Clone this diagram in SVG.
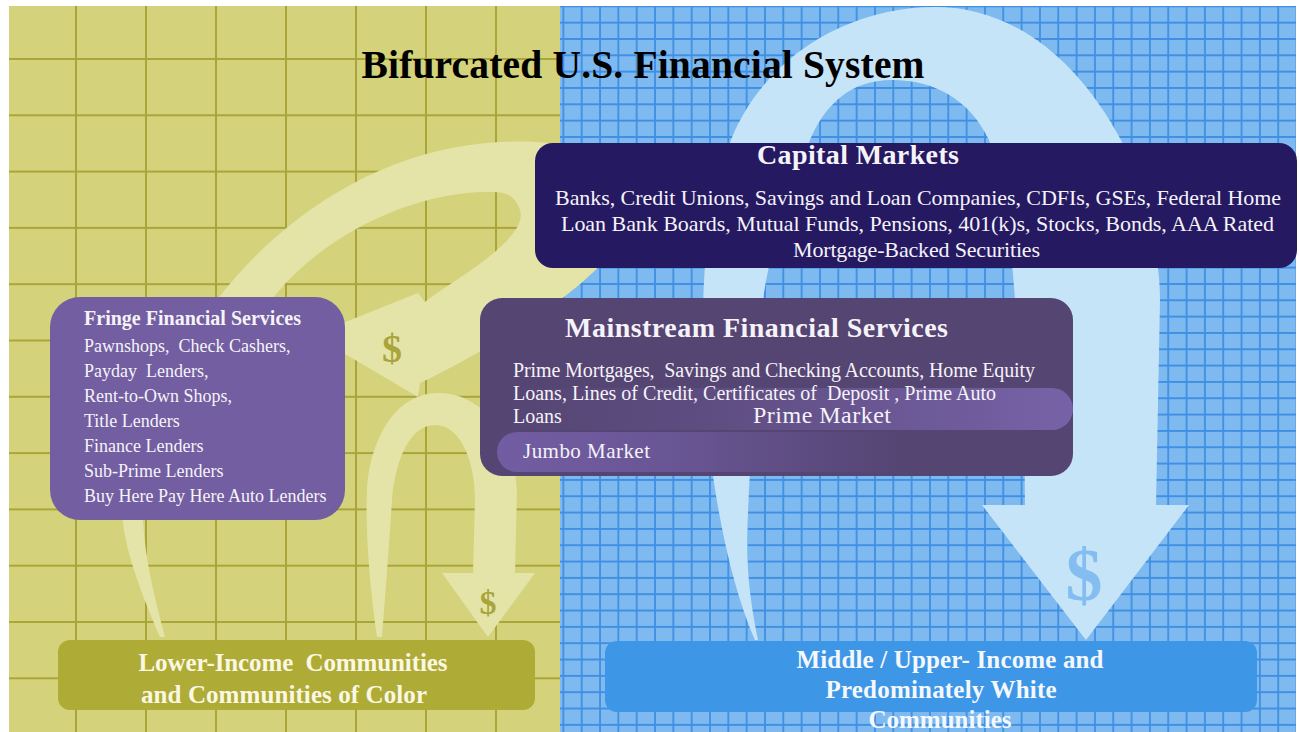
<svg xmlns="http://www.w3.org/2000/svg" width="1299" height="732" viewBox="0 0 1299 732">
<style>
.sf{font-family:"Liberation Serif","Times New Roman",serif}
.w{fill:#f5f3f8}
.bd{font-weight:bold}
.mid{text-anchor:middle}
.cream{fill:#e5e4a8}
.sky{fill:#c6e4f8}
.cash{font-family:"Liberation Serif","Times New Roman",serif;font-weight:bold;text-anchor:middle}
</style>
<defs>
  <!-- coarse olive grid for the left half -->
  <pattern id="gridY" patternUnits="userSpaceOnUse" x="75" y="58" width="70" height="56.3">
    <rect width="70" height="56.3" fill="#d4d27a"/>
    <path d="M1 0V56.3M0 1H70" stroke="#aaa53a" stroke-width="2"/>
  </pattern>
  <!-- fine blue grid for the right half -->
  <pattern id="gridB" patternUnits="userSpaceOnUse" x="580.7" y="21.7" width="18.33" height="16.33">
    <rect width="18.33" height="16.33" fill="#7ebaf0"/>
    <path d="M1 0V16.33M0 1H18.33" stroke="#3f8fe2" stroke-width="1.8"/>
  </pattern>
  <linearGradient id="primeFade" x1="0" y1="0" x2="1" y2="0">
    <stop offset="0" stop-color="#7762a7" stop-opacity="0"/>
    <stop offset="0.35" stop-color="#7762a7" stop-opacity="0.25"/>
    <stop offset="1" stop-color="#7762a7" stop-opacity="1"/>
  </linearGradient>
  <linearGradient id="jumboFade" x1="0" y1="0" x2="1" y2="0">
    <stop offset="0" stop-color="#725da3" stop-opacity="1"/>
    <stop offset="0.3" stop-color="#725da3" stop-opacity="0.7"/>
    <stop offset="0.7" stop-color="#725da3" stop-opacity="0"/>
  </linearGradient>
</defs>

<!-- page and the two backgrounds -->
<rect width="1299" height="732" fill="#ffffff"/>
<rect x="9" y="6" width="551" height="726" fill="url(#gridY)"/>
<rect x="560" y="6" width="736" height="726" fill="url(#gridB)"/>

<g id="connectors">
  <!-- big loop: communities up to capital markets and back down to fringe services -->
  <path id="loop-fringe" class="cream" d="M160 637 C140 590 120 540 122 500 C124 420 160 340 217 300 C270 230 360 160 470 145 C520 138 580 140 610 165 C640 200 620 250 590 275 C565 300 490 350 420 383 L418 397 L313 335 L418 293 L425 302 C445 285 530 240 520 210 C515 195 505 192 493 192 C420 190 330 230 277 293 C220 360 150 440 143 520 C145 560 155 600 165 637 Z"/>
  <!-- small U-turn back down to lower-income communities -->
  <path id="uturn-lower" class="cream" d="M377 637 C370 590 365 530 367 490 C370 440 395 393 438 393 C480 393 512 430 517 490 L515 573 L535 573 L488 637 L442 573 L473 573 L475 500 C475 460 460 425 435 425 C410 425 395 460 392 500 C388 560 385 600 382 637 Z"/>
  <!-- large arch over the mainstream side -->
  <path id="arch-upper" class="sky" d="M755 640 C720 560 700 420 703 320 C703 250 712 190 731 140 C765 55 850 7 935 7 C1010 7 1075 55 1121 140 C1145 200 1160 250 1160 300 L1156 505 L1189 505 L1086 640 L982 505 L1025 505 C1025 420 1020 350 1015 300 C1010 230 1003 180 989 140 C970 100 935 80 892 80 C850 80 825 105 810 140 C785 200 763 270 760 330 C755 420 745 500 748 570 C750 600 755 625 758 640 Z"/>
  <text class="cash" x="392" y="362" font-size="40" fill="#a9a43c">$</text>
  <text class="cash" x="488" y="614" font-size="34" fill="#a9a43c">$</text>
  <text class="cash" x="1084" y="600" font-size="74" fill="#84bdf0">$</text>
</g>

<g id="title">
  <text class="sf bd mid" x="643" y="78" font-size="39.5" fill="#000" textLength="563" lengthAdjust="spacing">Bifurcated U.S. Financial System</text>
</g>

<g id="capital-markets">
  <rect x="535" y="143" width="762" height="125" rx="18" fill="#251a62"/>
  <text class="sf bd mid w" x="858" y="164" font-size="28" textLength="202" lengthAdjust="spacing">Capital Markets</text>
  <text class="sf mid w" x="918" y="205" font-size="22" textLength="726" lengthAdjust="spacing">Banks, Credit Unions, Savings and Loan Companies, CDFIs, GSEs, Federal Home</text>
  <text class="sf mid w" x="917.5" y="231" font-size="22" textLength="713" lengthAdjust="spacing">Loan Bank Boards, Mutual Funds, Pensions, 401(k)s, Stocks, Bonds, AAA Rated</text>
  <text class="sf mid w" x="916.5" y="257" font-size="22" textLength="247" lengthAdjust="spacing">Mortgage-Backed Securities</text>
</g>

<g id="mainstream">
  <rect x="480" y="298" width="593" height="178" rx="22" fill="#554573"/>
  <rect x="497" y="388" width="576" height="42" rx="21" fill="url(#primeFade)"/>
  <rect x="497" y="432" width="576" height="40" rx="20" fill="url(#jumboFade)"/>
  <text class="sf bd mid w" x="756.5" y="337" font-size="28" textLength="383" lengthAdjust="spacing">Mainstream Financial Services</text>
  <text class="sf w" x="513" y="377" font-size="20" textLength="522" lengthAdjust="spacing" xml:space="preserve">Prime Mortgages,  Savings and Checking Accounts, Home Equity</text>
  <text class="sf w" x="513" y="400" font-size="20" textLength="483" lengthAdjust="spacing" xml:space="preserve">Loans, Lines of Credit, Certificates of  Deposit , Prime Auto</text>
  <text class="sf w" x="513" y="423" font-size="20">Loans</text>
  <text class="sf mid w" x="822" y="423" font-size="24" textLength="138" lengthAdjust="spacing">Prime Market</text>
  <text class="sf w" x="523" y="458" font-size="21" textLength="127" lengthAdjust="spacing">Jumbo Market</text>
</g>

<g id="fringe">
  <rect x="50" y="297" width="295" height="223" rx="30" fill="#735ea1"/>
  <text class="sf bd w" x="84" y="325" font-size="20" textLength="217" lengthAdjust="spacing">Fringe Financial Services</text>
  <text class="sf w" x="84" y="352" font-size="18" xml:space="preserve">Pawnshops,  Check Cashers,</text>
  <text class="sf w" x="84" y="377" font-size="18" xml:space="preserve">Payday  Lenders,</text>
  <text class="sf w" x="84" y="402" font-size="18">Rent-to-Own Shops,</text>
  <text class="sf w" x="84" y="427" font-size="18">Title Lenders</text>
  <text class="sf w" x="84" y="452" font-size="18">Finance Lenders</text>
  <text class="sf w" x="84" y="477" font-size="18">Sub-Prime Lenders</text>
  <text class="sf w" x="84" y="502" font-size="18">Buy Here Pay Here Auto Lenders</text>
</g>

<g id="lower-income">
  <rect x="58" y="640" width="477" height="70" rx="12" fill="#aeab36"/>
  <text class="sf bd mid" x="293" y="671" font-size="25" fill="#faf7e2" textLength="309" lengthAdjust="spacing" xml:space="preserve">Lower-Income  Communities</text>
  <text class="sf bd mid" x="284" y="703" font-size="25" fill="#faf7e2" textLength="286" lengthAdjust="spacing">and Communities of Color</text>
</g>

<g id="middle-upper">
  <rect x="605" y="641" width="652" height="71" rx="12" fill="#3d96e6"/>
  <text class="sf bd mid" x="950" y="668" font-size="25" fill="#f4f8fd" textLength="307" lengthAdjust="spacing">Middle / Upper- Income and</text>
  <text class="sf bd mid" x="941" y="698" font-size="25" fill="#f4f8fd" textLength="231" lengthAdjust="spacing">Predominately White</text>
  <text class="sf bd mid" x="940" y="728" font-size="25" fill="#f4f8fd" textLength="143" lengthAdjust="spacing">Communities</text>
</g>
</svg>
